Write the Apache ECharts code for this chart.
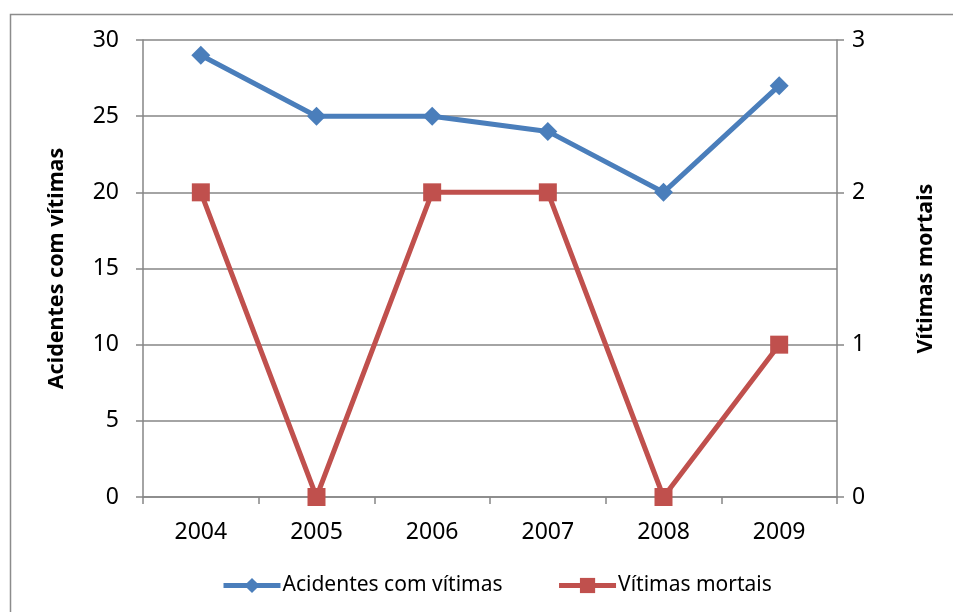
<!DOCTYPE html>
<html>
<head>
<meta charset="utf-8">
<script src="https://cdn.jsdelivr.net/npm/echarts@6/dist/echarts.min.js"></script>
<style>
html,body{margin:0;padding:0;background:#fff;}
#chart{width:953px;height:612px;}
</style>
</head>
<body>
<div id="chart"></div>
<script>
const categories = ['2004', '2005', '2006', '2007', '2008', '2009'];
const acidentes = [29, 25, 25, 24, 20, 27];
const vitimas = [2, 0, 2, 2, 0, 1];
const leftTicks = {min: 0, max: 30, interval: 5};
const rightTicks = {min: 0, max: 3, interval: 1};

const font = '"Noto Sans", "Open Sans", sans-serif';
const axisGray = '#868686';
const blue = '#4A7EBB';
const red = '#C0504D';

const chart = echarts.init(document.getElementById('chart'), null, {renderer: 'canvas'});
chart.setOption({
  animation: false,
  backgroundColor: '#fff',
  graphic: [{
    type: 'rect', left: 8, top: 12, z: -1,
    shape: {width: 960, height: 620},
    style: {fill: 'none', stroke: '#8c8c8c', lineWidth: 1.5}
  }],
  grid: {left: 143, right: 116, top: 40, bottom: 115},
  legend: {
    top: 575, left: 221, padding: 0, itemWidth: 57, itemHeight: 19, itemGap: 54,
    textStyle: {fontFamily: font, fontSize: 21, color: '#000', padding: [0, 0, 0, -3]},
    data: [
      {name: 'Acidentes com vítimas', lineStyle: {width: 5, color: blue}},
      {name: 'Vítimas mortais', lineStyle: {width: 5, color: red}}
    ]
  },
  xAxis: {
    type: 'category', data: categories, boundaryGap: true,
    axisLine: {lineStyle: {color: axisGray, width: 1.5}},
    axisTick: {show: true, length: 7, lineStyle: {color: axisGray, width: 1.5}, alignWithLabel: false},
    axisLabel: {fontFamily: font, fontSize: 23, color: '#000', margin: 24}
  },
  yAxis: [{
    type: 'value', position: 'left', ...leftTicks,
    name: 'Acidentes com vítimas', nameLocation: 'middle', nameRotate: 90, nameGap: 75,
    nameTextStyle: {fontFamily: font, fontSize: 21.5, fontWeight: 'bold', color: '#000'},
    axisLine: {show: true, lineStyle: {color: axisGray, width: 1.5}},
    axisTick: {show: true, length: 7, lineStyle: {color: axisGray, width: 1.5}},
    axisLabel: {fontFamily: font, fontSize: 23, color: '#000', margin: 24},
    splitLine: {show: true, lineStyle: {color: axisGray, width: 1.5}}
  }, {
    type: 'value', position: 'right', ...rightTicks,
    name: 'Vítimas mortais', nameLocation: 'middle', nameRotate: 90, nameGap: 78,
    nameTextStyle: {fontFamily: font, fontSize: 21.5, fontWeight: 'bold', color: '#000'},
    axisLine: {show: true, lineStyle: {color: axisGray, width: 1.5}},
    axisTick: {show: true, length: 7, lineStyle: {color: axisGray, width: 1.5}},
    axisLabel: {fontFamily: font, fontSize: 23, color: '#000', margin: 15},
    splitLine: {show: false}
  }],
  series: [{
    name: 'Acidentes com vítimas', type: 'line', yAxisIndex: 0, data: acidentes,
    symbol: 'diamond', symbolSize: 19, showAllSymbol: true,
    lineStyle: {color: blue, width: 5},
    itemStyle: {color: blue}, z: 3
  }, {
    name: 'Vítimas mortais', type: 'line', yAxisIndex: 1, data: vitimas,
    symbol: 'rect', symbolSize: 18, showAllSymbol: true,
    lineStyle: {color: red, width: 5},
    itemStyle: {color: red}, z: 4
  }]
});
</script>
</body>
</html>
